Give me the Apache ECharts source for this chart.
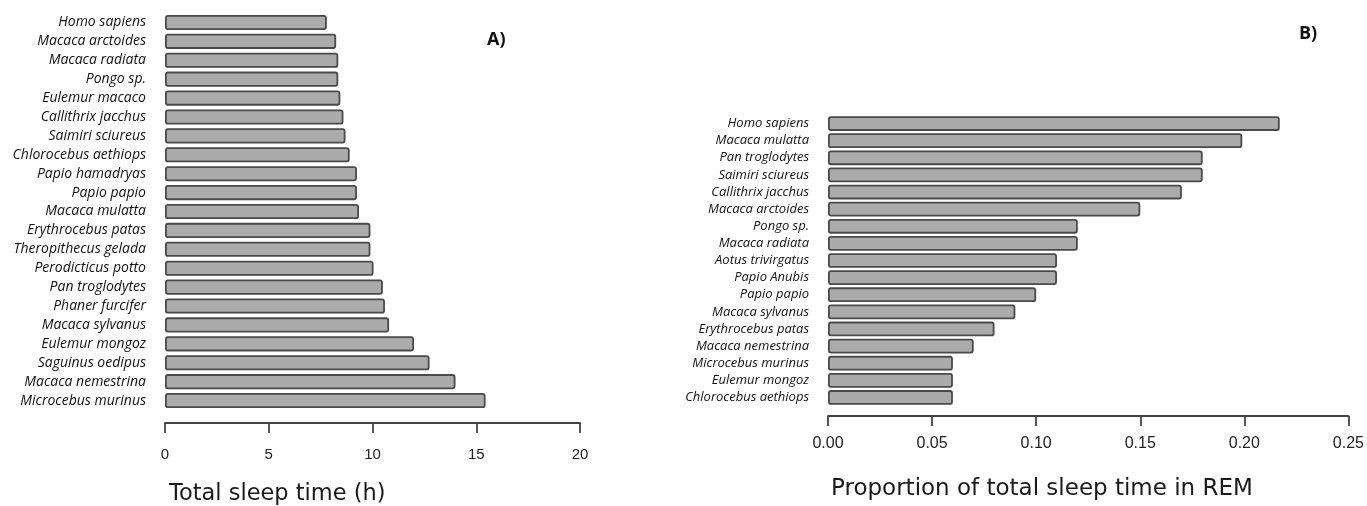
<!DOCTYPE html>
<html>
<head>
<meta charset="utf-8">
<script src="https://cdn.jsdelivr.net/npm/echarts@6/dist/echarts.min.js"></script>
<style>
  html, body { margin: 0; padding: 0; background: #fff; }
  #chart { width: 1367px; height: 506px; }
</style>
</head>
<body>
<div id="chart"></div>
<script>
// panel A: total sleep time (h)
const speciesA = [
  "Homo sapiens", "Macaca arctoides", "Macaca radiata", "Pongo sp.", "Eulemur macaco",
  "Callithrix jacchus", "Saimiri sciureus", "Chlorocebus aethiops", "Papio hamadryas",
  "Papio papio", "Macaca mulatta", "Erythrocebus patas", "Theropithecus gelada",
  "Perodicticus potto", "Pan troglodytes", "Phaner furcifer", "Macaca sylvanus",
  "Eulemur mongoz", "Saguinus oedipus", "Macaca nemestrina", "Microcebus murinus",
];
const sleepA = [
  7.8, 8.25, 8.35, 8.35, 8.45, 8.6, 8.7, 8.9, 9.25, 9.25, 9.35,
  9.9, 9.9, 10.05, 10.5, 10.6, 10.8, 12.0, 12.75, 14.0, 15.45,
];
const ticksA = { min: 0, max: 20, interval: 5 };

// panel B: proportion of total sleep time in REM
const speciesB = [
  "Homo sapiens", "Macaca mulatta", "Pan troglodytes", "Saimiri sciureus",
  "Callithrix jacchus", "Macaca arctoides", "Pongo sp.", "Macaca radiata",
  "Aotus trivirgatus", "Papio Anubis", "Papio papio", "Macaca sylvanus",
  "Erythrocebus patas", "Macaca nemestrina", "Microcebus murinus", "Eulemur mongoz",
  "Chlorocebus aethiops",
];
const remB = [
  0.217, 0.199, 0.18, 0.18, 0.17, 0.15, 0.12, 0.12, 0.11, 0.11,
  0.10, 0.09, 0.08, 0.07, 0.06, 0.06, 0.06,
];
const ticksB = { min: 0, max: 0.25, interval: 0.05 };

const chart = echarts.init(document.getElementById("chart"));

const barStyle = { color: "#ababab", borderColor: "#4a4a4a", borderWidth: 1.8, borderRadius: 2 };

function valueAxis(gridIndex, ticks, offset, margin, size, fmt) {
  return {
    gridIndex,
    type: "value",
    min: ticks.min,
    max: ticks.max,
    interval: ticks.interval,
    offset,
    splitLine: { show: false },
    axisLine: { show: true, lineStyle: { color: "#444", width: 1.8 } },
    axisTick: { show: true, length: 10, lineStyle: { color: "#444", width: 1.8 } },
    axisLabel: {
      margin,
      color: "#222",
      fontFamily: "Liberation Sans",
      fontSize: size,
      formatter: fmt,
    },
  };
}

function nameAxis(gridIndex, names, size) {
  return {
    gridIndex,
    type: "category",
    data: names,
    inverse: true,
    axisLine: { show: false },
    axisTick: { show: false },
    axisLabel: {
      margin: 19,
      color: "#111",
      fontFamily: "Open Sans",
      fontStyle: "italic",
      fontSize: size,
    },
  };
}

const titleFont = { fontFamily: "DejaVu Sans", fontWeight: "normal", color: "#1a1a1a" };
const tagFont = { fontFamily: "Open Sans", fontSize: 18, fontWeight: "bold", color: "#111" };

chart.setOption({
  animation: false,
  title: [
    { text: "A)", left: 482, top: 26, textStyle: tagFont },
    { text: "B)", left: 1294, top: 20, textStyle: tagFont },
    { text: "Total sleep time (h)", left: 164, top: 478, textStyle: { ...titleFont, fontSize: 22.5 } },
    { text: "Proportion of total sleep time in REM", left: 826, top: 473, textStyle: { ...titleFont, fontSize: 23 } },
  ],
  grid: [
    { left: 165, width: 415, top: 13, height: 397 },
    { left: 828, right: 15, top: 115, height: 291 },
  ],
  xAxis: [
    valueAxis(0, ticksA, 13, 24, 15, (v) => String(v)),
    valueAxis(1, ticksB, 10, 20, 16, (v) => v.toFixed(2)),
  ],
  yAxis: [nameAxis(0, speciesA, 14), nameAxis(1, speciesB, 13)],
  series: [
    {
      type: "bar",
      xAxisIndex: 0,
      yAxisIndex: 0,
      data: sleepA,
      barCategoryGap: "20%",
      itemStyle: barStyle,
    },
    {
      type: "bar",
      xAxisIndex: 1,
      yAxisIndex: 1,
      data: remB,
      barCategoryGap: "14%",
      itemStyle: barStyle,
    },
  ],
});
</script>
</body>
</html>
